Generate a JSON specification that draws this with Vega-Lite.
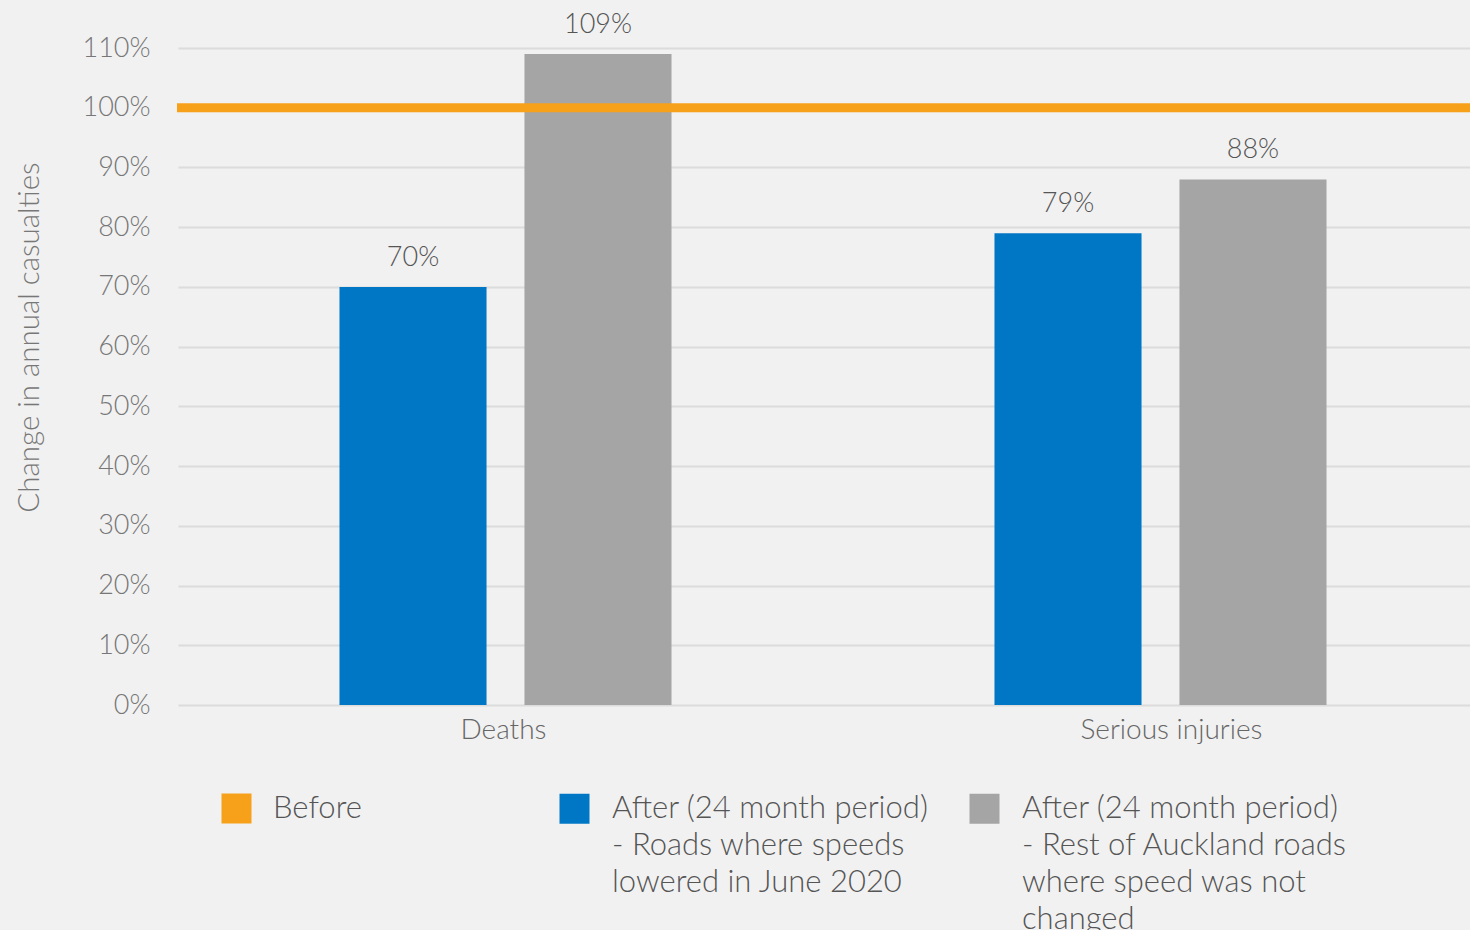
{
  "$schema": "https://vega.github.io/schema/vega-lite/v6.json",
  "width": 1293,
  "height": 657,
  "autosize": {"type": "none"},
  "padding": {"left": 177, "top": 48, "right": 0, "bottom": 225},
  "background": "#f1f1f1",
  "config": {
    "view": {"stroke": null},
    "font": "Lato",
    "style": {"guide-label": {"lineHeight": 37}}
  },
  "data": {
    "values": [
      {"category": "Deaths", "series": "After (24 month period) - Roads where speeds lowered in June 2020", "value": 0.70},
      {"category": "Deaths", "series": "After (24 month period) - Rest of Auckland roads where speed was not changed", "value": 1.09},
      {"category": "Serious injuries", "series": "After (24 month period) - Roads where speeds lowered in June 2020", "value": 0.79},
      {"category": "Serious injuries", "series": "After (24 month period) - Rest of Auckland roads where speed was not changed", "value": 0.88}
    ]
  },
  "layer": [
    {
      "mark": {"type": "bar"},
      "encoding": {
        "x": {
          "field": "category",
          "type": "nominal",
          "scale": {"range": [1, 1311], "paddingInner": 0, "paddingOuter": 0},
          "axis": {
            "title": null,
            "domain": false,
            "ticks": false,
            "grid": false,
            "labelAngle": 0,
            "labelFontSize": 28,
            "labelFontWeight": 300,
            "labelColor": "#666666",
            "labelPadding": 11,
            "labelLimit": 600,
            "labelOffset": {"condition": {"test": "datum.value == 'Serious injuries'", "value": 11}, "value": -2}
          }
        },
        "xOffset": {
          "field": "series",
          "type": "nominal",
          "scale": {
            "domain": [
              "After (24 month period) - Roads where speeds lowered in June 2020",
              "After (24 month period) - Rest of Auckland roads where speed was not changed"
            ],
            "paddingInner": 0.205,
            "paddingOuter": 0.873
          }
        },
        "y": {
          "field": "value",
          "type": "quantitative",
          "scale": {"domain": [0, 1.1], "nice": false},
          "axis": {
            "values": [0, 0.1, 0.2, 0.3, 0.4, 0.5, 0.6, 0.7, 0.8, 0.9, 1.0, 1.1],
            "format": ".0%",
            "title": "Change in annual casualties",
            "domain": false,
            "ticks": false,
            "labelPadding": 27,
            "labelFontSize": 27,
            "labelFontWeight": 300,
            "labelColor": "#777777",
            "gridColor": "#dcdcdc",
            "gridWidth": 2,
            "titleFontSize": 29.5,
            "titleFontWeight": 300,
            "titleColor": "#777777",
            "titleX": -133,
            "titleY": 289
          }
        },
        "color": {
          "field": "series",
          "type": "nominal",
          "scale": {
            "domain": [
              "After (24 month period) - Roads where speeds lowered in June 2020",
              "After (24 month period) - Rest of Auckland roads where speed was not changed"
            ],
            "range": ["#0077c4", "#a5a5a5"]
          },
          "legend": {
            "title": null,
            "orient": "none",
            "legendX": 382,
            "legendY": 745,
            "direction": "horizontal",
            "symbolType": "square",
            "symbolSize": 900,
            "symbolStrokeWidth": 0,
            "labelFontSize": 31,
            "labelFontWeight": 300,
            "labelColor": "#555555",
            "labelOffset": 22,
            "labelLimit": 600,
            "labelBaseline": "middle",
            "columnPadding": 40,
            "labelExpr": "datum.label == 'After (24 month period) - Roads where speeds lowered in June 2020' ? ['After (24 month period)', '- Roads where speeds', 'lowered in June 2020', ''] : ['After (24 month period)', '- Rest of Auckland roads', 'where speed was not', 'changed']"
          }
        }
      }
    },
    {
      "mark": {"type": "text", "dy": -21, "baseline": "alphabetic", "fontSize": 27, "fontWeight": 300, "color": "#555555"},
      "encoding": {
        "x": {"field": "category", "type": "nominal"},
        "xOffset": {"field": "series", "type": "nominal"},
        "y": {"field": "value", "type": "quantitative"},
        "text": {"field": "value", "type": "quantitative", "format": ".0%"}
      }
    },
    {
      "data": {"values": [{"series": "Before", "value": 1.0}]},
      "mark": {"type": "rule", "strokeWidth": 9},
      "encoding": {
        "y": {"field": "value", "type": "quantitative"},
        "color": {
          "field": "series",
          "type": "nominal",
          "scale": {"domain": ["Before"], "range": ["#f7a11a"]},
          "legend": {
            "title": null,
            "orient": "none",
            "legendX": 44,
            "legendY": 745,
            "symbolType": "square",
            "symbolSize": 900,
            "symbolFillColor": "#f7a11a",
            "symbolStrokeWidth": 0,
            "labelFontSize": 31,
            "labelFontWeight": 300,
            "labelColor": "#555555",
            "labelOffset": 21
          }
        }
      }
    }
  ],
  "resolve": {"scale": {"color": "independent"}}
}
